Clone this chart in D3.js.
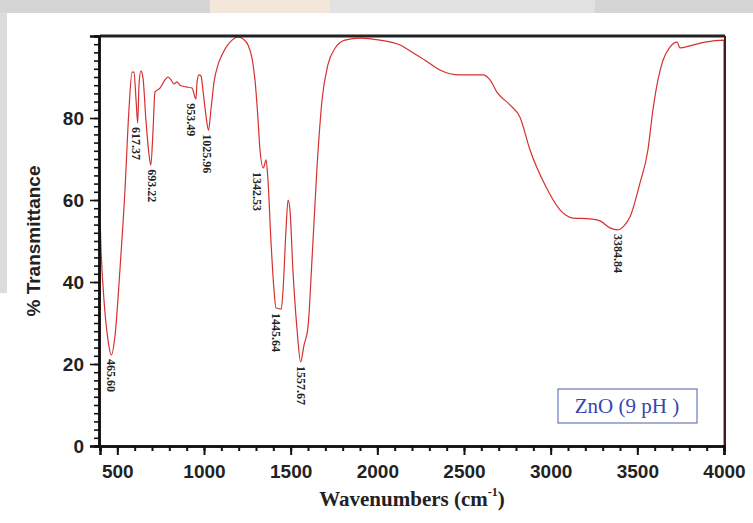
<!DOCTYPE html>
<html>
<head>
<meta charset="utf-8">
<script src="https://cdn.jsdelivr.net/npm/d3@7/dist/d3.min.js"></script>
<style>
  body { margin: 0; background: #fff; }
  svg { display: block; }
</style>
</head>
<body>
<svg width="753" height="523"></svg>
<script>
// spectre FTIR ZnO (9 pH) : nombre d'onde / % transmittance
const wavenumbers = [400, 400, 406, 423, 446, 465.6, 487, 515, 544, 567, 585, 596, 608, 617.4, 625, 636, 648, 665, 683, 693.2,
  706, 717, 746, 775, 792, 810, 827, 844, 862, 896, 931, 953.5, 960, 971, 983, 994, 1011, 1026, 1040, 1058,
  1081, 1104, 1133, 1162, 1196, 1225, 1254, 1277, 1294, 1312, 1323, 1342.5, 1358, 1369, 1386, 1404, 1415, 1445.6, 1456, 1473,
  1485, 1496, 1513, 1537, 1557.7, 1577, 1600, 1623, 1652, 1681, 1715, 1756, 1813, 1900, 2015, 2131, 2206, 2275, 2361, 2477,
  2610, 2650, 2690, 2765, 2823, 2881, 2967, 3054, 3129, 3227, 3285, 3342, 3385, 3423, 3458, 3515, 3561, 3590, 3619, 3648,
  3688, 3729, 3746, 3804, 3890, 4000, 4000];
const transmittance = [0, 55.1, 47.8, 35.6, 25.9, 22.2, 27, 43, 62.4, 82, 91.2, 91.2, 84.4, 78.8, 88, 91.5, 89.8, 79.5, 71, 68.5,
  77, 86.3, 87.3, 89.3, 90, 89.3, 88.3, 88.8, 88, 87.6, 87.3, 84.6, 88.8, 90.5, 90.2, 86.8, 80.7, 77, 82, 88.8,
  93, 95.4, 97.6, 99, 99.8, 99.3, 97.8, 94.6, 89.3, 79.5, 72.2, 67.8, 69.8, 64.9, 50.2, 38, 33.7, 33.4, 38, 52.7,
  60, 57.6, 42.9, 28.3, 20.5, 24.6, 29, 45.4, 68, 84.4, 93, 97, 99, 99.5, 99, 97.8, 95.9, 94.1, 91.7, 90.5,
  90.5, 89.3, 86.3, 83.2, 80.2, 72.2, 63.7, 57.6, 55.6, 55.4, 54.9, 53.2, 52.7, 53.7, 55.9, 64.1, 72.2, 82, 89.3, 94.1,
  97.3, 98.5, 97.1, 97.6, 98.5, 99, 0];

// pics annotés
const peakLabels = ["465.60", "617.37", "693.22", "953.49", "1025.96", "1342.53", "1445.64", "1557.67", "3384.84"];
const peakX = [465.6, 617.37, 693.22, 953.49, 1025.96, 1342.53, 1445.64, 1557.67, 3384.84];
const peakY = [22.2, 78.8, 68.5, 84.6, 77, 67.8, 33.4, 20.5, 52.7];

const xTicks = [500, 1000, 1500, 2000, 2500, 3000, 3500, 4000];
const yTicks = [0, 20, 40, 60, 80];
const legendText = "ZnO (9 pH )";

const svg = d3.select('svg');
const mLeft = 100, mRight = 724, mTop = 36, mBottom = 446;

// fond gris avec bandeau (image source recadrée)
svg.append('rect').attr('width', 753).attr('height', 13).attr('fill', '#d5d5d5');
svg.append('rect').attr('x', 210).attr('width', 120).attr('height', 13).attr('fill', '#f3e6da');
svg.append('rect').attr('x', 330).attr('width', 265).attr('height', 13).attr('fill', '#e2e2e2');
svg.append('rect').attr('y', 13).attr('width', 7).attr('height', 280).attr('fill', '#dcdcdc');

const x = d3.scaleLinear().domain([400, 4000]).range([mLeft, mRight]);
const y = d3.scaleLinear().domain([0, 100]).range([mBottom, mTop]);

// courbe
const pts = wavenumbers.map((w, i) => [w, transmittance[i]]);
svg.append('path')
  .datum(pts)
  .attr('fill', 'none')
  .attr('stroke', '#d63030')
  .attr('stroke-width', 1.2)
  .attr('stroke-linejoin', 'round')
  .attr('d', d3.line().curve(d3.curveMonotoneX).x(d => x(d[0])).y(d => y(d[1])));

// cadre haut et droit
svg.append('line').attr('x1', mLeft).attr('x2', mRight + 1).attr('y1', mTop).attr('y2', mTop)
  .attr('stroke', '#222').attr('stroke-width', 3);
svg.append('line').attr('x1', mRight + 1).attr('x2', mRight + 1).attr('y1', mTop).attr('y2', mBottom)
  .attr('stroke', '#4a1818').attr('stroke-width', 2);

// axe X
const xAxis = svg.append('g').attr('transform', `translate(0,${mBottom})`);
xAxis.call(d3.axisBottom(x).tickValues(d3.range(400, 4001, 100)).tickSize(5).tickFormat(''));
xAxis.call(g => g.append('g').call(d3.axisBottom(x).tickValues(xTicks).tickSize(9).tickPadding(10)
  .tickFormat(d3.format('d'))));
xAxis.selectAll('.domain').attr('stroke', '#111').attr('stroke-width', 2.5);
xAxis.selectAll('.tick line').attr('stroke', '#111').attr('stroke-width', 2);
xAxis.selectAll('text')
  .attr('fill', '#222').attr('font-family', 'Liberation Sans, Arial, sans-serif')
  .attr('font-weight', 'bold').attr('font-size', 19);

// axe Y
const yAxis = svg.append('g').attr('transform', `translate(${mLeft - 1},0)`);
yAxis.call(d3.axisLeft(y).tickValues(d3.range(0, 101, 2)).tickSize(5).tickFormat(''));
yAxis.call(g => g.append('g').call(d3.axisLeft(y).tickValues(yTicks).tickSize(9).tickPadding(6)));
yAxis.selectAll('.domain').attr('stroke', '#111').attr('stroke-width', 2.5);
yAxis.selectAll('.tick line').attr('stroke', '#111').attr('stroke-width', 1.6);
yAxis.selectAll('text')
  .attr('fill', '#222').attr('font-family', 'Liberation Sans, Arial, sans-serif')
  .attr('font-weight', 'bold').attr('font-size', 19);

// étiquettes des pics (verticales, sous chaque minimum)
const labelDx = [0, -1, 1, -5, -1, -6, -5, 1, 1];
peakLabels.forEach((t, i) => {
  const px = x(peakX[i]) + labelDx[i];
  const py = y(peakY[i]) + 4;
  svg.append('text')
    .attr('transform', `translate(${px},${py}) rotate(90)`)
    .attr('dy', '0.35em')
    .attr('font-family', 'Liberation Serif, Times New Roman, serif')
    .attr('font-size', 12)
    .attr('font-weight', 'bold')
    .attr('fill', '#222')
    .text(t);
});

// titres des axes
svg.append('text')
  .attr('transform', 'translate(40,241) rotate(-90)')
  .attr('text-anchor', 'middle')
  .attr('font-family', 'Liberation Sans, Arial, sans-serif')
  .attr('font-weight', 'bold').attr('font-size', 19).attr('fill', '#222')
  .text('% Transmittance');

const xt = svg.append('text')
  .attr('x', 412).attr('y', 506)
  .attr('text-anchor', 'middle')
  .attr('font-family', 'Liberation Serif, Times New Roman, serif')
  .attr('font-weight', 'bold').attr('font-size', 21).attr('fill', '#222');
xt.append('tspan').text('Wavenumbers (cm');
xt.append('tspan').attr('dy', -10).attr('font-size', 12).text('-1');
xt.append('tspan').attr('dy', 10).text(')');

// légende
svg.append('rect')
  .attr('x', 558).attr('y', 389).attr('width', 139).attr('height', 34)
  .attr('fill', 'white').attr('stroke', '#6a78c0').attr('stroke-width', 1.2);
svg.append('text')
  .attr('x', 627).attr('y', 413)
  .attr('text-anchor', 'middle')
  .attr('font-family', 'Liberation Serif, Times New Roman, serif')
  .attr('font-size', 21).attr('fill', '#3546b0')
  .text(legendText);
</script>
</body>
</html>
